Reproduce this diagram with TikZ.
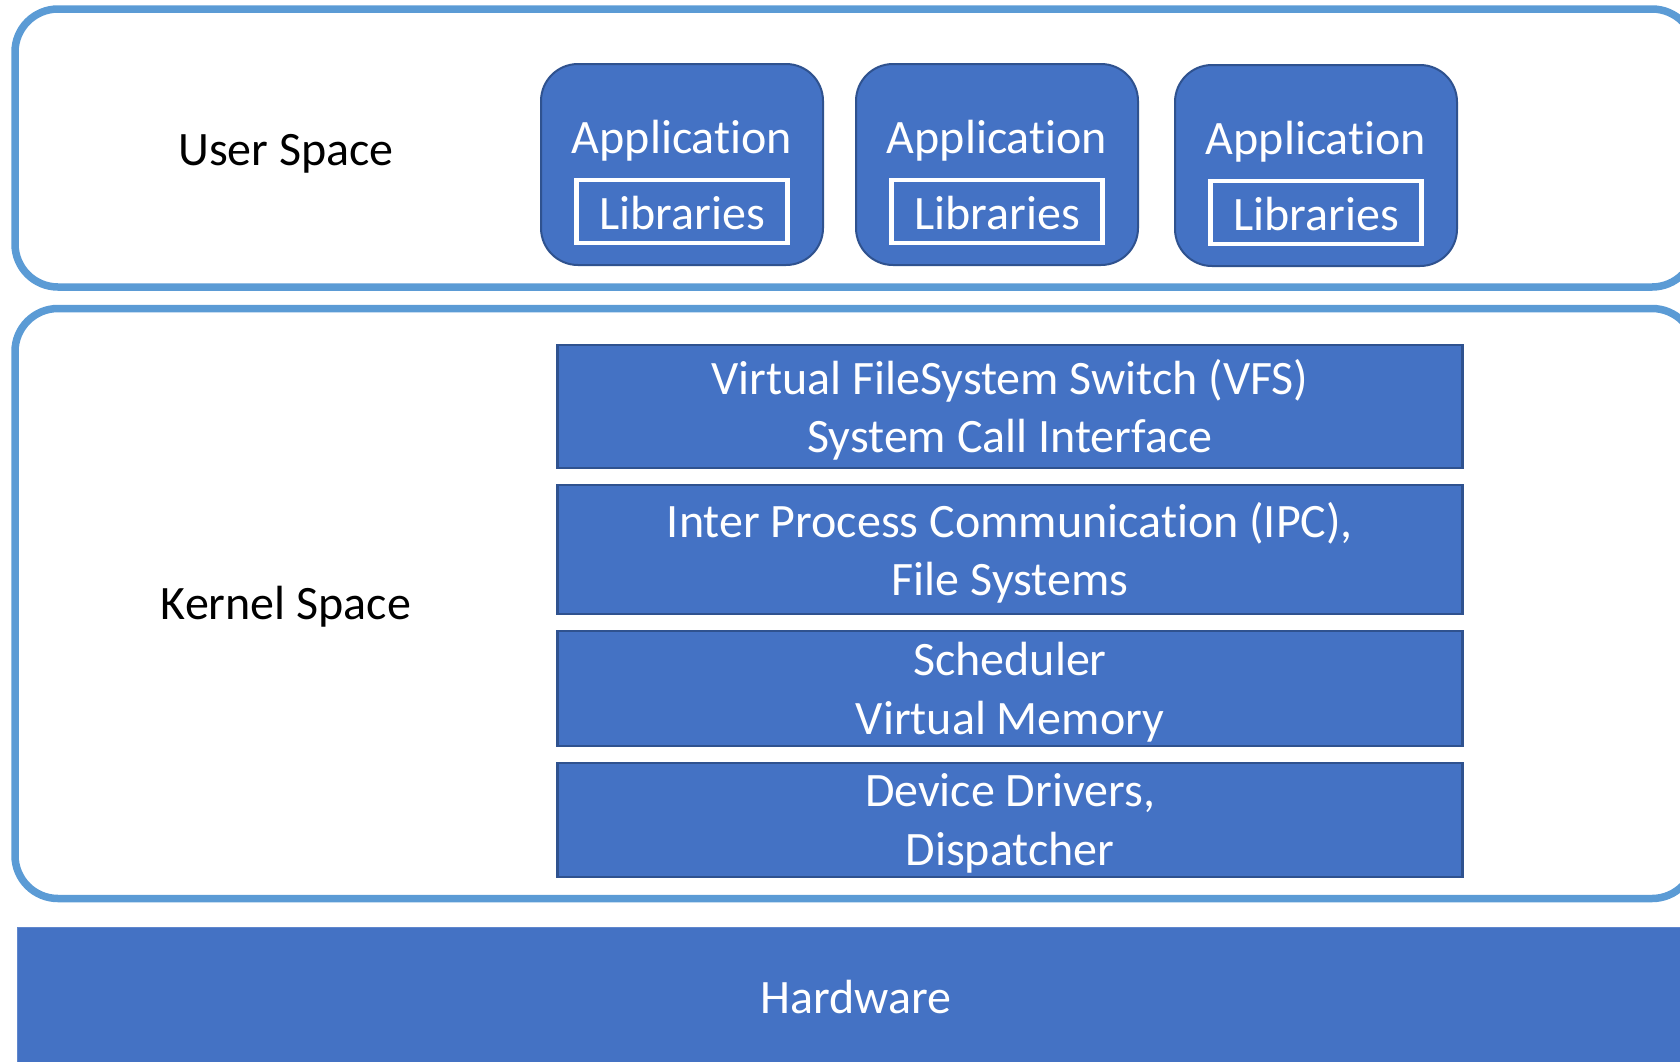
\documentclass[tikz,border=0pt]{standalone}
\usepackage{fontspec}
\setmainfont{Carlito}[RawFeature={-liga}]
\definecolor{boxfill}{HTML}{4472C4}
\definecolor{boxline}{HTML}{2F528F}
\definecolor{outerline}{HTML}{5B9BD5}
\begin{document}
\begin{tikzpicture}[x=1pt,y=-1pt,
  every node/.style={inner sep=0pt,outer sep=0pt,font=\fontsize{48}{58.5}\selectfont},
  region/.style={draw=outerline,line width=7.5pt,rounded corners=43pt,fill=white},
  appbox/.style={draw=boxline,line width=2pt,fill=boxfill,rounded corners=37pt,rectangle},
  wtext/.style={text=white,align=center,yshift=-3.5pt},
  btext/.style={text=black,yshift=-4pt},
  libbox/.style={draw=white,line width=4.5pt,fill=boxfill,rectangle,minimum width=211pt,minimum height=63pt},
  kbox/.style={draw=boxline,line width=2.5pt,fill=boxfill,rectangle,minimum width=905pt},
  hwbox/.style={fill=boxfill,draw=boxfill!85!white,line width=1pt}
]
\useasboundingbox (0,0) rectangle (1680,1061);
\clip (0,0) rectangle (1680,1061);
% regions
\node[region,rectangle,minimum width=1680pt,minimum height=278pt] (user) at (855,148) {};
\node[region,rectangle,minimum width=1680pt,minimum height=590pt] (kernel) at (855,603.5) {};
\node[hwbox,rectangle,minimum width=1700pt,minimum height=160pt] (hw) at (867,1007) {};
\node[text=white] (hwt) at (856,997) {Hardware};
% labels
\node[btext] (ulabel) at (286,150) {User Space};
\node[btext] (klabel) at (286,603) {Kernel Space};
% applications
\node[appbox,minimum width=282pt,minimum height=201pt] (app1) at (682,164.5) {};
\node[appbox,minimum width=282pt,minimum height=201pt] (app2) at (997,164.5) {};
\node[appbox,minimum width=282pt,minimum height=201pt] (app3) at (1316,165.5) {};
\node[wtext] (app1t) at (682,137) {Application};
\node[wtext] (app2t) at (997,137) {Application};
\node[wtext] (app3t) at (1316,138) {Application};
\node[libbox] (lib1) at (682,211.5) {};
\node[libbox] (lib2) at (997,211.5) {};
\node[libbox] (lib3) at (1316,212.5) {};
\node[wtext,yshift=2pt] (lib1t) at (lib1) {Libraries};
\node[wtext,yshift=2pt] (lib2t) at (lib2) {Libraries};
\node[wtext,yshift=2pt] (lib3t) at (lib3) {Libraries};
% kernel layers
\node[kbox,minimum height=123pt] (vfs) at (1010,406.5) {};
\node[kbox,minimum height=129pt] (ipc) at (1010,549.5) {};
\node[kbox,minimum height=115pt] (sched) at (1010,688.5) {};
\node[kbox,minimum height=114pt] (dev) at (1010,820) {};
\node[wtext] (vfst) at (vfs) {Virtual FileSystem Switch (VFS)\\System Call Interface};
\node[wtext] (ipct) at (ipc) {Inter Process Communication (IPC),\\File Systems};
\node[wtext] (schedt) at (sched) {Scheduler\\Virtual Memory};
\node[wtext] (devt) at (dev) {Device Drivers,\\Dispatcher};
\end{tikzpicture}
\end{document}
